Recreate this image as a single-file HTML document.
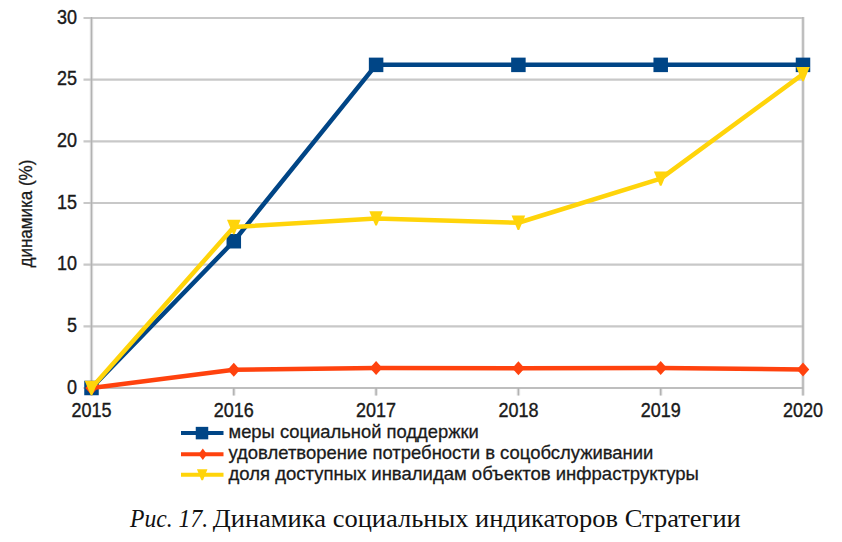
<!DOCTYPE html>
<html><head><meta charset="utf-8"><title>Динамика социальных индикаторов Стратегии</title>
<style>
html,body{margin:0;padding:0;background:#fff;}
body{width:842px;height:542px;overflow:hidden;position:relative;}
svg{position:absolute;left:0;top:0;}
.ax{font-family:"Liberation Sans",Arial,sans-serif;font-size:18px;fill:#1a1a1a;stroke:#1a1a1a;stroke-width:0.35px;}
.yt{font-family:"Liberation Sans",Arial,sans-serif;font-size:17px;fill:#1a1a1a;stroke:#1a1a1a;stroke-width:0.3px;}
.lg{font-family:"Liberation Sans",Arial,sans-serif;font-size:18.5px;fill:#1a1a1a;stroke:#1a1a1a;stroke-width:0.3px;}
.cap{font-family:"Liberation Serif","DejaVu Serif",serif;font-size:26px;fill:#111;}
</style></head>
<body>
<svg width="842" height="542" viewBox="0 0 842 542">
<line x1="91.50" y1="17.10" x2="91.50" y2="395.50" stroke="#e6e6e6" stroke-width="3.6"/>
<line x1="803.00" y1="17.10" x2="803.00" y2="395.50" stroke="#e6e6e6" stroke-width="3.6"/>
<line x1="233.80" y1="388.00" x2="233.80" y2="395.50" stroke="#e6e6e6" stroke-width="3.6"/>
<line x1="376.10" y1="388.00" x2="376.10" y2="395.50" stroke="#e6e6e6" stroke-width="3.6"/>
<line x1="518.40" y1="388.00" x2="518.40" y2="395.50" stroke="#e6e6e6" stroke-width="3.6"/>
<line x1="660.70" y1="388.00" x2="660.70" y2="395.50" stroke="#e6e6e6" stroke-width="3.6"/>
<line x1="83.50" y1="326.33" x2="803.00" y2="326.33" stroke="#c8c8c8" stroke-width="2.2"/>
<line x1="83.50" y1="264.67" x2="803.00" y2="264.67" stroke="#c8c8c8" stroke-width="2.2"/>
<line x1="83.50" y1="203.00" x2="803.00" y2="203.00" stroke="#c8c8c8" stroke-width="2.2"/>
<line x1="83.50" y1="141.33" x2="803.00" y2="141.33" stroke="#c8c8c8" stroke-width="2.2"/>
<line x1="83.50" y1="79.67" x2="803.00" y2="79.67" stroke="#c8c8c8" stroke-width="2.2"/>
<line x1="83.50" y1="18.00" x2="803.00" y2="18.00" stroke="#c8c8c8" stroke-width="2.2"/>
<line x1="83.50" y1="388.00" x2="803.00" y2="388.00" stroke="#bebebe" stroke-width="2.2"/>
<line x1="91.50" y1="17.10" x2="91.50" y2="395.50" stroke="#b2b2b2" stroke-width="1.5"/>
<line x1="803.00" y1="17.10" x2="803.00" y2="395.50" stroke="#b2b2b2" stroke-width="1.5"/>
<line x1="233.80" y1="388.00" x2="233.80" y2="395.50" stroke="#b2b2b2" stroke-width="1.5"/>
<line x1="376.10" y1="388.00" x2="376.10" y2="395.50" stroke="#b2b2b2" stroke-width="1.5"/>
<line x1="518.40" y1="388.00" x2="518.40" y2="395.50" stroke="#b2b2b2" stroke-width="1.5"/>
<line x1="660.70" y1="388.00" x2="660.70" y2="395.50" stroke="#b2b2b2" stroke-width="1.5"/>
<text transform="translate(77,393.60) scale(1,1.08)" text-anchor="end" class="ax">0</text>
<text transform="translate(77,331.93) scale(1,1.08)" text-anchor="end" class="ax">5</text>
<text transform="translate(77,270.27) scale(1,1.08)" text-anchor="end" class="ax">10</text>
<text transform="translate(77,208.60) scale(1,1.08)" text-anchor="end" class="ax">15</text>
<text transform="translate(77,146.93) scale(1,1.08)" text-anchor="end" class="ax">20</text>
<text transform="translate(77,85.27) scale(1,1.08)" text-anchor="end" class="ax">25</text>
<text transform="translate(77,23.60) scale(1,1.08)" text-anchor="end" class="ax">30</text>
<text transform="translate(91.50,416.6) scale(1,1.08)" text-anchor="middle" class="ax">2015</text>
<text transform="translate(233.80,416.6) scale(1,1.08)" text-anchor="middle" class="ax">2016</text>
<text transform="translate(376.10,416.6) scale(1,1.08)" text-anchor="middle" class="ax">2017</text>
<text transform="translate(518.40,416.6) scale(1,1.08)" text-anchor="middle" class="ax">2018</text>
<text transform="translate(660.70,416.6) scale(1,1.08)" text-anchor="middle" class="ax">2019</text>
<text transform="translate(803.00,416.6) scale(1,1.08)" text-anchor="middle" class="ax">2020</text>
<text transform="translate(31.7,213.6) rotate(-90) scale(1,1.08)" text-anchor="middle" class="yt">динамика (%)</text>
<polyline points="91.50,388.00 233.80,241.23 376.10,64.87 518.40,64.87 660.70,64.87 803.00,64.87" fill="none" stroke="#004586" stroke-width="4.5" stroke-linejoin="round"/>
<rect x="84.25" y="380.75" width="14.5" height="14.5" fill="#004586"/>
<rect x="226.55" y="233.98" width="14.5" height="14.5" fill="#004586"/>
<rect x="368.85" y="57.62" width="14.5" height="14.5" fill="#004586"/>
<rect x="511.15" y="57.62" width="14.5" height="14.5" fill="#004586"/>
<rect x="653.45" y="57.62" width="14.5" height="14.5" fill="#004586"/>
<rect x="795.75" y="57.62" width="14.5" height="14.5" fill="#004586"/>
<polyline points="91.50,388.00 233.80,369.75 376.10,368.02 518.40,368.27 660.70,368.02 803.00,369.50" fill="none" stroke="#ff420e" stroke-width="4.5" stroke-linejoin="round"/>
<polygon points="85.25,388.00 91.50,381.00 97.75,388.00 91.50,395.00" fill="#ff420e"/>
<polygon points="227.55,369.75 233.80,362.75 240.05,369.75 233.80,376.75" fill="#ff420e"/>
<polygon points="369.85,368.02 376.10,361.02 382.35,368.02 376.10,375.02" fill="#ff420e"/>
<polygon points="512.15,368.27 518.40,361.27 524.65,368.27 518.40,375.27" fill="#ff420e"/>
<polygon points="654.45,368.02 660.70,361.02 666.95,368.02 660.70,375.02" fill="#ff420e"/>
<polygon points="796.75,369.50 803.00,362.50 809.25,369.50 803.00,376.50" fill="#ff420e"/>
<polyline points="91.50,388.00 233.80,227.05 376.10,218.42 518.40,222.73 660.70,178.58 803.00,74.12" fill="none" stroke="#ffd40a" stroke-width="4.5" stroke-linejoin="round"/>
<polygon points="84.70,380.80 98.30,380.80 92.30,395.20 90.70,395.20" fill="#ffd40a"/>
<polygon points="227.00,219.85 240.60,219.85 234.60,234.25 233.00,234.25" fill="#ffd40a"/>
<polygon points="369.30,211.22 382.90,211.22 376.90,225.62 375.30,225.62" fill="#ffd40a"/>
<polygon points="511.60,215.53 525.20,215.53 519.20,229.93 517.60,229.93" fill="#ffd40a"/>
<polygon points="653.90,171.38 667.50,171.38 661.50,185.78 659.90,185.78" fill="#ffd40a"/>
<polygon points="796.20,66.92 809.80,66.92 803.80,81.32 802.20,81.32" fill="#ffd40a"/>
<text y="526.5" class="cap"><tspan x="130.1" font-style="italic" textLength="78" lengthAdjust="spacingAndGlyphs">Рис. 17.</tspan> <tspan x="212.7" textLength="528.1" lengthAdjust="spacingAndGlyphs">Динамика социальных индикаторов Стратегии</tspan></text>
<line x1="181" y1="433.1" x2="223.5" y2="433.1" stroke="#004586" stroke-width="4"/>
<rect x="195.75" y="426.85" width="12.5" height="12.5" fill="#004586"/>
<text x="228.5" y="438.10" class="lg" textLength="250.3" lengthAdjust="spacingAndGlyphs">меры социальной поддержки</text>
<line x1="181" y1="454.3" x2="223.5" y2="454.3" stroke="#ff420e" stroke-width="4"/>
<polygon points="198.55,454.30 202.80,448.55 207.05,454.30 202.80,460.05" fill="#ff420e"/>
<text x="228.5" y="459.30" class="lg" textLength="424.9" lengthAdjust="spacingAndGlyphs">удовлетворение потребности в соцобслуживании</text>
<line x1="181" y1="474.8" x2="223.5" y2="474.8" stroke="#ffd40a" stroke-width="4"/>
<polygon points="196.95,469.30 207.45,469.30 203.00,480.30 201.40,480.30" fill="#ffd40a"/>
<text x="228.5" y="479.80" class="lg" textLength="470.3" lengthAdjust="spacingAndGlyphs">доля доступных инвалидам объектов инфраструктуры</text>
</svg>
</body></html>
